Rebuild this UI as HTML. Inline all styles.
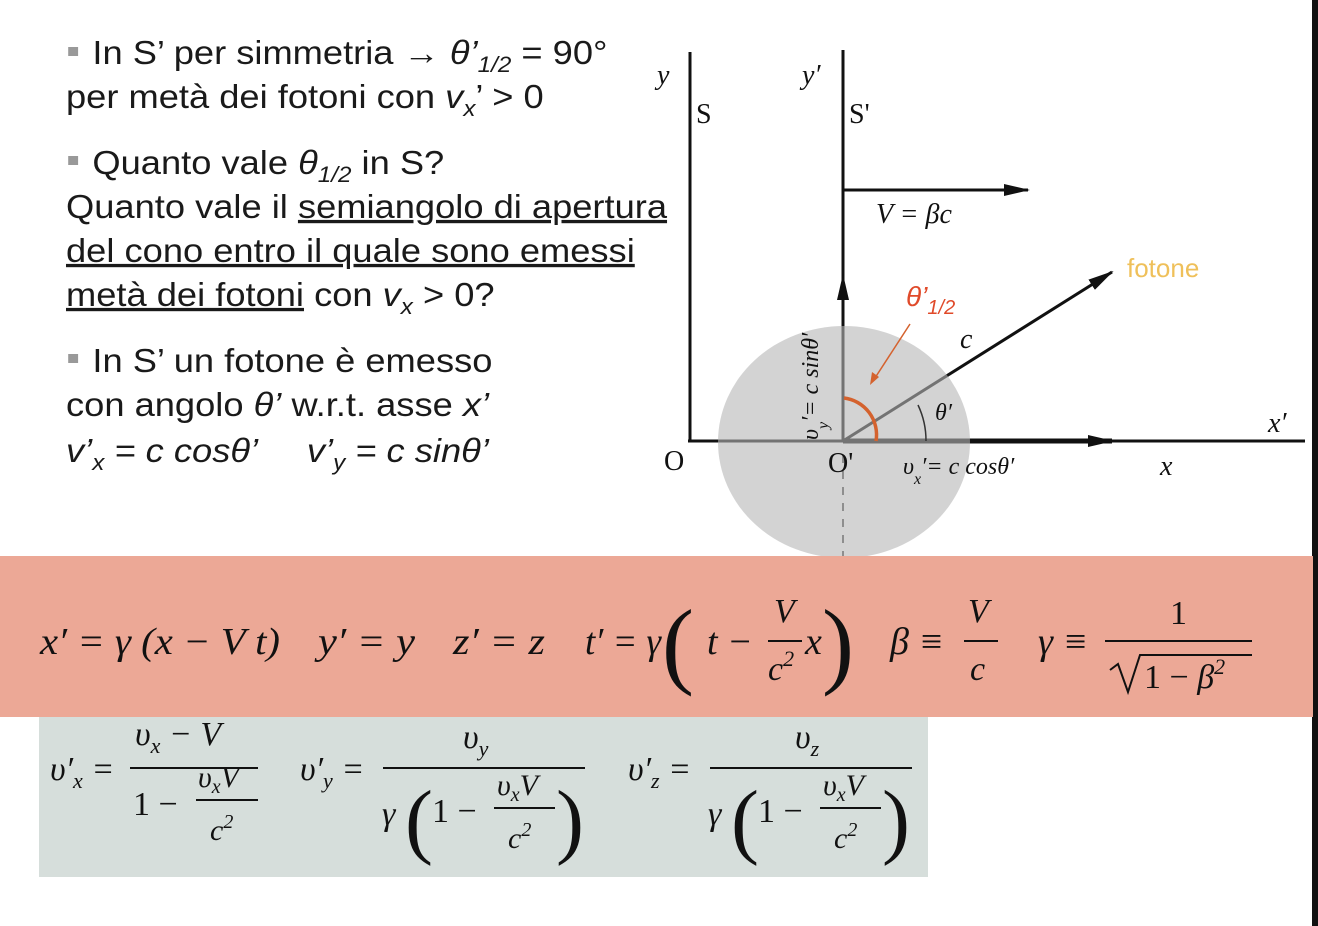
<!DOCTYPE html>
<html><head><meta charset="utf-8"><style>
html,body{margin:0;padding:0;background:#fff;width:1318px;height:926px;overflow:hidden}
svg{display:block}
.t{font-family:"Liberation Sans",sans-serif;font-size:33px;fill:#1a1a1a}
.m{font-family:"Liberation Serif",serif;font-style:italic;fill:#111}
.r{font-family:"Liberation Serif",serif;fill:#111}
</style></head><body>
<svg width="1318" height="926" viewBox="0 0 1318 926">
<defs><marker id="ah" markerUnits="userSpaceOnUse" markerWidth="26" markerHeight="12" refX="24" refY="6" orient="auto"><path d="M0,0 L26,6 L0,12 z" fill="#111"/></marker></defs>
<g transform="translate(66,0) scale(1.1,1) translate(-66,0)">
<rect x="68" y="47" width="9" height="9" fill="#999"/>
<text class="t" x="90" y="64">In S’ per simmetria → <tspan font-style="italic">θ’</tspan><tspan font-size="22" dy="8" font-style="italic">1/2</tspan><tspan dy="-8"> = 90°</tspan></text>
<text class="t" x="66" y="108">per metà dei fotoni con <tspan font-style="italic">v</tspan><tspan font-size="22" dy="8" font-style="italic">x</tspan><tspan dy="-8">’ &gt; 0</tspan></text>
<rect x="68" y="156" width="9" height="9" fill="#999"/>
<text class="t" x="90" y="174">Quanto vale <tspan font-style="italic">θ</tspan><tspan font-size="22" dy="8" font-style="italic">1/2</tspan><tspan dy="-8"> in S?</tspan></text>
<text class="t" x="66" y="218">Quanto vale il <tspan text-decoration="underline">semiangolo di apertura</tspan></text>
<text class="t" x="66" y="262" text-decoration="underline">del cono entro il quale sono emessi</text>
<text class="t" x="66" y="306"><tspan text-decoration="underline">metà dei fotoni</tspan> con <tspan font-style="italic">v</tspan><tspan font-size="22" dy="8" font-style="italic">x</tspan><tspan dy="-8"> &gt; 0?</tspan></text>
<rect x="68" y="354" width="9" height="9" fill="#999"/>
<text class="t" x="90" y="372">In S’ un fotone è emesso</text>
<text class="t" x="66" y="416">con angolo <tspan font-style="italic">θ’</tspan> w.r.t. asse <tspan font-style="italic">x’</tspan></text>
<text class="t" x="66" y="462" font-style="italic">v’<tspan font-size="22" dy="8">x</tspan><tspan dy="-8"> = c cosθ’</tspan></text>
<text class="t" x="285" y="462" font-style="italic">v’<tspan font-size="22" dy="8">y</tspan><tspan dy="-8"> = c sinθ’</tspan></text>
</g>
<g>
<line x1="690" y1="52" x2="690" y2="442" stroke="#111" stroke-width="3"/>
<line x1="843" y1="50" x2="843" y2="442" stroke="#111" stroke-width="3"/>
<line x1="688" y1="441" x2="1305" y2="441" stroke="#111" stroke-width="3"/>
<line x1="843" y1="441" x2="1112" y2="441" stroke="#111" stroke-width="5" marker-end="url(#ah)"/>
<line x1="843" y1="190" x2="1028" y2="190" stroke="#111" stroke-width="3" marker-end="url(#ah)"/>
<line x1="843" y1="442" x2="843" y2="276" stroke="#111" stroke-width="3" marker-end="url(#ah)"/>
<line x1="843" y1="441" x2="1112" y2="272" stroke="#111" stroke-width="3" marker-end="url(#ah)"/>
<ellipse cx="844" cy="442" rx="126" ry="116" fill="#b5b5b5" fill-opacity="0.6"/>
<line x1="843" y1="455" x2="843" y2="556" stroke="#777" stroke-width="1.5" stroke-dasharray="8,8"/>
<path d="M926,441 A83,83 0 0 0 918,405" fill="none" stroke="#333" stroke-width="1.5"/>
<path d="M844,398 A37,37 0 0 1 876,441" fill="none" stroke="#d4622e" stroke-width="3.5"/>
<line x1="910" y1="324" x2="873" y2="381" stroke="#d4622e" stroke-width="1.5"/>
<path d="M870,385 L872,372 L879,377 z" fill="#d4622e"/>
<text class="m" x="657" y="84" font-size="28">y</text>
<text class="r" x="696" y="123" font-size="28">S</text>
<text class="m" x="802" y="84" font-size="28">y′</text>
<text class="r" x="849" y="123" font-size="28">S'</text>
<text class="m" x="876" y="223" font-size="28" fill="#333">V = βc</text>
<text x="1127" y="277" font-family="Liberation Sans,sans-serif" font-size="26" fill="#efc05a">fotone</text>
<text x="906" y="306" font-family="Liberation Sans,sans-serif" font-size="28" font-style="italic" fill="#e04a2a">θ’<tspan font-size="20" dy="8">1/2</tspan></text>
<text class="m" x="960" y="348" font-size="28">c</text>
<text class="m" x="935" y="420" font-size="24">θ′</text>
<text class="m" x="1268" y="432" font-size="28">x′</text>
<text class="r" x="664" y="470" font-size="28">O</text>
<text class="r" x="828" y="472" font-size="28">O'</text>
<text class="m" x="1160" y="475" font-size="28">x</text>
<text class="m" x="903" y="474" font-size="24">υ<tspan font-size="16" dy="10">x</tspan><tspan dy="-10">′= c cosθ′</tspan></text>
<text class="m" font-size="24" transform="translate(818,440) rotate(-90)">υ<tspan font-size="16" dy="10">y</tspan><tspan dy="-10">′= c sinθ′</tspan></text>
</g>
<rect x="1312" y="0" width="6" height="926" fill="#111"/>
<g>
<rect x="0" y="556" width="1313" height="161" fill="#eca896"/>
<text class="m" x="40" y="654" font-size="38" textLength="240" lengthAdjust="spacingAndGlyphs">x′ = γ (x − V t)</text>
<text class="m" x="318" y="654" font-size="38" textLength="97" lengthAdjust="spacingAndGlyphs">y′ = y</text>
<text class="m" x="453" y="654" font-size="38" textLength="92" lengthAdjust="spacingAndGlyphs">z′ = z</text>
<text class="m" x="585" y="654" font-size="38" textLength="76" lengthAdjust="spacingAndGlyphs">t′ = γ</text>
<text class="r" x="662" y="676" font-size="96" font-weight="100">(</text>
<text class="m" x="707" y="654" font-size="38">t −</text>
<text class="m" x="774" y="622" font-size="34">V</text>
<line x1="768" y1="641" x2="802" y2="641" stroke="#111" stroke-width="2"/>
<text class="m" x="768" y="680" font-size="34">c<tspan font-size="22" dy="-14">2</tspan></text>
<text class="m" x="805" y="654" font-size="38">x</text>
<text class="r" x="822" y="676" font-size="96">)</text>
<text class="m" x="890" y="654" font-size="38">β ≡</text>
<text class="m" x="968" y="622" font-size="34">V</text>
<line x1="964" y1="641" x2="998" y2="641" stroke="#111" stroke-width="2"/>
<text class="m" x="970" y="680" font-size="34">c</text>
<text class="m" x="1038" y="654" font-size="38">γ ≡</text>
<text class="r" x="1170" y="624" font-size="34">1</text>
<line x1="1105" y1="641" x2="1252" y2="641" stroke="#111" stroke-width="2"/>
<path d="M1110,670 L1118,664 L1128,692 L1140,655 L1252,655" fill="none" stroke="#111" stroke-width="2"/>
<text class="m" x="1144" y="688" font-size="34"><tspan font-style="normal">1 −</tspan> β<tspan font-size="22" dy="-14">2</tspan></text>
</g>
<g>
<rect x="39" y="717" width="889" height="160" fill="#d6dedb"/>
<text class="m" x="50" y="780" font-size="34">υ′<tspan font-size="22" dy="8">x</tspan><tspan dy="-8"> =</tspan></text>
<text class="m" x="135" y="745" font-size="34">υ<tspan font-size="22" dy="8">x</tspan><tspan dy="-8"> − V</tspan></text>
<line x1="130" y1="768" x2="258" y2="768" stroke="#111" stroke-width="2"/>
<text class="r" x="133" y="815" font-size="34">1 −</text>
<text class="m" x="198" y="787" font-size="30">υ<tspan font-size="20" dy="6">x</tspan><tspan dy="-6">V</tspan></text>
<line x1="196" y1="800" x2="258" y2="800" stroke="#111" stroke-width="2"/>
<text class="m" x="210" y="840" font-size="30">c<tspan font-size="20" dy="-12">2</tspan></text>
<text class="m" x="300" y="780" font-size="34">υ′<tspan font-size="22" dy="8">y</tspan><tspan dy="-8"> =</tspan></text>
<text class="m" x="463" y="748" font-size="34">υ<tspan font-size="22" dy="8">y</tspan></text>
<line x1="383" y1="768" x2="585" y2="768" stroke="#111" stroke-width="2"/>
<text class="m" x="382" y="825" font-size="34">γ</text>
<text class="r" x="405" y="848" font-size="84">(</text>
<text class="r" x="432" y="822" font-size="34">1 −</text>
<text class="m" x="497" y="795" font-size="30">υ<tspan font-size="20" dy="6">x</tspan><tspan dy="-6">V</tspan></text>
<line x1="494" y1="808" x2="555" y2="808" stroke="#111" stroke-width="2"/>
<text class="m" x="508" y="848" font-size="30">c<tspan font-size="20" dy="-12">2</tspan></text>
<text class="r" x="556" y="848" font-size="84">)</text>
<text class="m" x="628" y="780" font-size="34">υ′<tspan font-size="22" dy="8">z</tspan><tspan dy="-8"> =</tspan></text>
<text class="m" x="795" y="748" font-size="34">υ<tspan font-size="22" dy="8">z</tspan></text>
<line x1="710" y1="768" x2="912" y2="768" stroke="#111" stroke-width="2"/>
<text class="m" x="708" y="825" font-size="34">γ</text>
<text class="r" x="731" y="848" font-size="84">(</text>
<text class="r" x="758" y="822" font-size="34">1 −</text>
<text class="m" x="823" y="795" font-size="30">υ<tspan font-size="20" dy="6">x</tspan><tspan dy="-6">V</tspan></text>
<line x1="820" y1="808" x2="881" y2="808" stroke="#111" stroke-width="2"/>
<text class="m" x="834" y="848" font-size="30">c<tspan font-size="20" dy="-12">2</tspan></text>
<text class="r" x="882" y="848" font-size="84">)</text>
</g>
</svg>
</body></html>
